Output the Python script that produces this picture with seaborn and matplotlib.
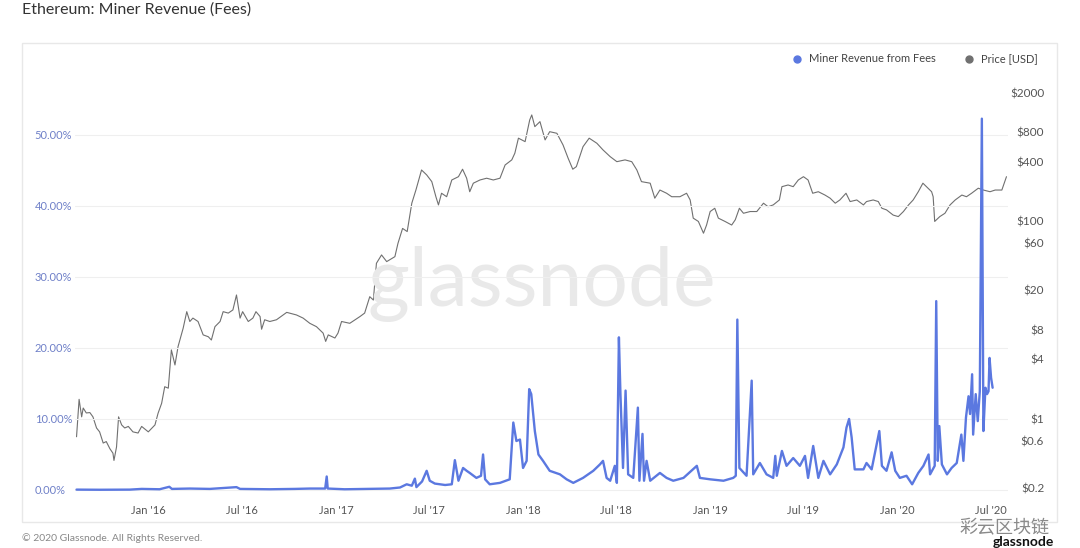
import matplotlib
matplotlib.use('Agg')
import matplotlib.pyplot as plt
from matplotlib.lines import Line2D
from matplotlib.patches import Rectangle
from matplotlib.ticker import FixedLocator, FixedFormatter
import pandas as pd
import seaborn as sns

# ==================== DATA ====================
price_dates = [
    '2015-08-13', '2015-08-18', '2015-08-23', '2015-08-26', '2015-09-01', '2015-09-08', '2015-09-14',
    '2015-09-21', '2015-09-27', '2015-10-04', '2015-10-10', '2015-10-17', '2015-10-23', '2015-10-25',
    '2015-10-30', '2015-11-03', '2015-11-09', '2015-11-15', '2015-11-22', '2015-12-01', '2015-12-11',
    '2015-12-18', '2015-12-31', '2016-01-13', '2016-01-19', '2016-01-26', '2016-02-01', '2016-02-08',
    '2016-02-14', '2016-02-21', '2016-02-27', '2016-03-08', '2016-03-15', '2016-03-21', '2016-03-27',
    '2016-04-06', '2016-04-16', '2016-04-26', '2016-05-02', '2016-05-09', '2016-05-19', '2016-05-25',
    '2016-06-04', '2016-06-13', '2016-06-20', '2016-06-27', '2016-07-02', '2016-07-13', '2016-07-22',
    '2016-07-28', '2016-08-05', '2016-08-08', '2016-08-14', '2016-08-24', '2016-09-06', '2016-09-26',
    '2016-10-15', '2016-10-28', '2016-11-10', '2016-11-23', '2016-12-06', '2016-12-11', '2016-12-16',
    '2016-12-29', '2017-01-04', '2017-01-11', '2017-01-27', '2017-02-16', '2017-02-25', '2017-03-07',
    '2017-03-14', '2017-03-20', '2017-03-30', '2017-04-09', '2017-04-25', '2017-05-01', '2017-05-10',
    '2017-05-19', '2017-05-28', '2017-06-05', '2017-06-16', '2017-06-26', '2017-07-06', '2017-07-14',
    '2017-07-19', '2017-07-25', '2017-08-04', '2017-08-14', '2017-08-27', '2017-09-04', '2017-09-12',
    '2017-09-18', '2017-09-25', '2017-10-08', '2017-10-21', '2017-11-03', '2017-11-16', '2017-11-26',
    '2017-12-09', '2017-12-15', '2017-12-22', '2018-01-04', '2018-01-13', '2018-01-17', '2018-01-23',
    '2018-02-02', '2018-02-12', '2018-02-21', '2018-03-07', '2018-03-19', '2018-03-29', '2018-04-07',
    '2018-04-14', '2018-04-27', '2018-05-09', '2018-05-24', '2018-06-05', '2018-06-19', '2018-07-02',
    '2018-07-18', '2018-07-31', '2018-08-10', '2018-08-19', '2018-09-05', '2018-09-14', '2018-09-24',
    '2018-10-07', '2018-10-17', '2018-11-02', '2018-11-15', '2018-11-22', '2018-11-28', '2018-12-08',
    '2018-12-18', '2018-12-24', '2018-12-31', '2019-01-09', '2019-01-16', '2019-01-29', '2019-02-11',
    '2019-02-18', '2019-02-26', '2019-03-06', '2019-03-19', '2019-04-01', '2019-04-14', '2019-04-23',
    '2019-05-03', '2019-05-15', '2019-05-20', '2019-06-01', '2019-06-11', '2019-06-21', '2019-07-01',
    '2019-07-10', '2019-07-19', '2019-07-30', '2019-08-12', '2019-08-22', '2019-09-01', '2019-09-10',
    '2019-09-22', '2019-09-30', '2019-10-13', '2019-10-26', '2019-11-01', '2019-11-14', '2019-11-24',
    '2019-12-01', '2019-12-10', '2019-12-23', '2020-01-02', '2020-01-12', '2020-01-22', '2020-01-31',
    '2020-02-10', '2020-02-19', '2020-02-26', '2020-03-07', '2020-03-10', '2020-03-13', '2020-03-23',
    '2020-04-02', '2020-04-12', '2020-04-22', '2020-05-05', '2020-05-14', '2020-05-24', '2020-06-06',
    '2020-06-16', '2020-06-29', '2020-07-09', '2020-07-22', '2020-07-31',
]
price_usd = [
    0.66, 1.58, 1.05, 1.29, 1.15, 1.16, 1.05,
    0.81, 0.74, 0.57, 0.59, 0.50, 0.45, 0.38,
    0.52, 1.05, 0.87, 0.81, 0.84, 0.74, 0.72,
    0.84, 0.74, 0.87, 1.14, 1.44, 2.12, 2.05,
    5.0, 3.52, 5.4, 8.3, 12.2, 9.7, 10.5,
    9.7, 7.1, 6.8, 6.3, 8.6, 9.7, 12.2,
    11.8, 12.7, 18.0, 10.5, 12.2, 9.7, 10.5,
    12.2, 10.9, 8.1, 10.1, 9.7, 10.1, 12.0,
    11.3, 10.5, 9.3, 8.6, 7.4, 6.1, 7.1,
    6.6, 7.4, 9.7, 9.3, 10.9, 11.8, 17.3,
    16.0, 37.7, 45.8, 39.2, 44, 60, 85,
    79, 153, 208, 332, 296, 253, 178,
    147, 193, 178, 263, 284, 338, 274,
    200, 244, 263, 274, 263, 274, 373,
    420, 491, 697, 643, 1066, 1198, 912,
    1025, 669, 811, 781, 595, 436, 338,
    359, 572, 697, 619, 530, 453, 403,
    420, 403, 332, 253, 244, 172, 208,
    193, 178, 178, 193, 165, 108, 100,
    76, 92, 126, 136, 108, 100, 92,
    104, 136, 121, 126, 126, 153, 141,
    147, 165, 225, 234, 225, 263, 284,
    263, 193, 200, 185, 172, 153, 165,
    193, 159, 165, 147, 159, 165, 159,
    136, 131, 116, 112, 126, 147, 165,
    200, 244, 225, 200, 178, 100, 112,
    121, 147, 165, 185, 178, 193, 217,
    208, 200, 208, 208, 284,
]

fee_dates = [
    '2015-08-13', '2015-09-27', '2015-11-25', '2015-12-18', '2016-01-03', '2016-01-22', '2016-02-10',
    '2016-02-15', '2016-03-21', '2016-04-29', '2016-06-20', '2016-06-27', '2016-08-24', '2016-10-12',
    '2016-11-10', '2016-12-10', '2016-12-13', '2016-12-15', '2017-01-17', '2017-03-07', '2017-04-15',
    '2017-05-05', '2017-05-18', '2017-05-28', '2017-06-03', '2017-06-06', '2017-06-17', '2017-06-26',
    '2017-07-02', '2017-07-12', '2017-08-01', '2017-08-14', '2017-08-20', '2017-08-27', '2017-09-05',
    '2017-09-12', '2017-09-18', '2017-10-01', '2017-10-10', '2017-10-14', '2017-10-18', '2017-10-27',
    '2017-11-16', '2017-12-05', '2017-12-12', '2017-12-18', '2017-12-25', '2017-12-31', '2018-01-07',
    '2018-01-12', '2018-01-16', '2018-01-23', '2018-01-30', '2018-02-08', '2018-02-21', '2018-03-13',
    '2018-03-26', '2018-04-08', '2018-04-27', '2018-05-17', '2018-05-30', '2018-06-05', '2018-06-12',
    '2018-06-19', '2018-06-28', '2018-07-02', '2018-07-06', '2018-07-09', '2018-07-14', '2018-07-19',
    '2018-07-24', '2018-08-03', '2018-08-12', '2018-08-15', '2018-08-21', '2018-08-24', '2018-08-29',
    '2018-09-05', '2018-09-24', '2018-10-07', '2018-10-20', '2018-11-09', '2018-12-05', '2018-12-11',
    '2018-12-31', '2019-01-26', '2019-02-14', '2019-02-19', '2019-02-22', '2019-02-26', '2019-03-12',
    '2019-03-22', '2019-03-25', '2019-04-07', '2019-04-20', '2019-05-03', '2019-05-07', '2019-05-10',
    '2019-05-20', '2019-05-29', '2019-06-11', '2019-06-24', '2019-07-04', '2019-07-10', '2019-07-20',
    '2019-07-30', '2019-08-09', '2019-08-22', '2019-09-04', '2019-09-17', '2019-09-23', '2019-09-28',
    '2019-10-03', '2019-10-09', '2019-10-26', '2019-11-01', '2019-11-11', '2019-11-26', '2019-12-01',
    '2019-12-10', '2019-12-20', '2019-12-27', '2020-01-05', '2020-01-18', '2020-01-29', '2020-02-10',
    '2020-02-20', '2020-03-01', '2020-03-04', '2020-03-13', '2020-03-16', '2020-03-19', '2020-03-22',
    '2020-03-27', '2020-04-06', '2020-04-15', '2020-04-25', '2020-05-04', '2020-05-08', '2020-05-13',
    '2020-05-18', '2020-05-21', '2020-05-25', '2020-05-27', '2020-06-01', '2020-06-05', '2020-06-09',
    '2020-06-13', '2020-06-16', '2020-06-20', '2020-06-23', '2020-06-26', '2020-06-28', '2020-07-01',
    '2020-07-04',
]
fee_pct = [
    0.05, 0.03, 0.05, 0.15, 0.12, 0.10, 0.45,
    0.15, 0.20, 0.15, 0.40, 0.15, 0.10, 0.15,
    0.20, 0.20, 1.9, 0.20, 0.10, 0.15, 0.20,
    0.35, 0.8, 0.6, 1.6, 0.4, 1.2, 2.7,
    1.3, 0.9, 0.7, 0.8, 4.2, 1.3, 3.1,
    2.7, 2.4, 1.7, 2.0, 5.0, 1.5, 0.8,
    1.0, 1.5, 9.5, 6.9, 7.1, 3.1, 4.1,
    14.2, 13.5, 8.3, 5.0, 4.1, 2.7, 2.2,
    1.5, 1.0, 1.7, 2.7, 3.6, 4.1, 1.7,
    1.3, 3.4, 1.0, 21.5, 13.5, 3.1, 14.0,
    2.2, 1.7, 11.6, 1.3, 7.9, 1.3, 4.1,
    1.3, 2.4, 1.7, 1.3, 1.7, 3.4, 1.7,
    1.5, 1.3, 1.7, 2.0, 24.0, 3.1, 2.0,
    15.4, 2.2, 3.8, 2.2, 1.7, 4.8, 2.0,
    5.5, 3.4, 4.5, 3.4, 4.8, 1.7, 6.2,
    1.7, 4.1, 2.2, 3.6, 6.0, 8.8, 10.0,
    7.4, 2.9, 2.9, 3.8, 2.9, 8.3, 3.4,
    2.7, 5.3, 2.7, 1.7, 2.0, 0.8, 2.4,
    3.4, 5.0, 2.2, 3.4, 26.6, 4.1, 9.0,
    3.6, 2.2, 3.1, 3.8, 7.8, 4.1, 10.2,
    13.2, 10.7, 16.3, 7.8, 13.5, 9.7, 13.9,
    52.3, 8.3, 14.4, 13.5, 13.9, 18.6, 15.8,
    14.4,
]

pct_ticks = [0, 10, 20, 30, 40, 50]
usd_ticks = [0.2, 0.6, 1, 4, 8, 20, 60, 100, 400, 800, 2000]
usd_labels = ['$0.2', '$0.6', '$1', '$4', '$8', '$20', '$60', '$100', '$400', '$800', '$2000']
month_ticks = ['2016-01-01', '2016-07-01', '2017-01-01', '2017-07-01', '2018-01-01', '2018-07-01',
               '2019-01-01', '2019-07-01', '2020-01-01', '2020-07-01']
month_labels = ["Jan '16", "Jul '16", "Jan '17", "Jul '17", "Jan '18", "Jul '18",
                "Jan '19", "Jul '19", "Jan '20", "Jul '20"]

FEE_COLOR = '#5b78e0'
PRICE_COLOR = '#707070'

price_df = pd.DataFrame({'date': pd.to_datetime(price_dates), 'price': price_usd})
fee_df = pd.DataFrame({'date': pd.to_datetime(fee_dates), 'fee': fee_pct})

# ==================== PLOT ====================
sns.set_theme(style='white')
plt.rcParams['font.family'] = ['Lato', 'DejaVu Sans']

W, H = 1080, 548
fig = plt.figure(figsize=(W / 100, H / 100), dpi=100)
fig.patch.set_facecolor('white')

def px(x, y):
    return x / W, 1 - y / H

# outer card
fig.patches.append(Rectangle(px(22, 522), (1057 - 22) / W, (522 - 43) / H, transform=fig.transFigure,
                             facecolor='none', edgecolor='#e8e8e8', lw=1.0))

ax_l, ax_t, ax_r, ax_b = 75, 75, 1008, 497
ax = fig.add_axes([ax_l / W, 1 - ax_b / H, (ax_r - ax_l) / W, (ax_b - ax_t) / H])
ax2 = ax.twinx()

# watermark
ax.text(0.5, 0.505, 'glassnode', transform=ax.transAxes, ha='center', va='center',
        fontsize=58, color='#e9e9e9', zorder=0)

sns.lineplot(data=price_df, x='date', y='price', ax=ax2, color=PRICE_COLOR, lw=0.8)
sns.lineplot(data=fee_df, x='date', y='fee', ax=ax, color=FEE_COLOR, lw=1.7)

ax.set_zorder(ax2.get_zorder() + 1)
ax.patch.set_visible(False)

ax.set_xlim(pd.Timestamp('2015-08-10'), pd.Timestamp('2020-08-03'))
ax.set_ylim(-0.99, 58.45)
ax2.set_yscale('log')
ax2.set_ylim(0.162, 3041)

ax.set_yticks(pct_ticks)
ax.set_yticklabels([f'{t:.2f}%' for t in pct_ticks])
ax2.yaxis.set_major_locator(FixedLocator(usd_ticks))
ax2.yaxis.set_major_formatter(FixedFormatter(usd_labels))
ax2.yaxis.set_minor_locator(FixedLocator([]))
ax.set_xticks(pd.to_datetime(month_ticks))
ax.set_xticklabels(month_labels)

ax.grid(axis='y', color='#efefef', lw=0.8)
ax.grid(axis='x', visible=False)
ax2.grid(False)
for a in (ax, ax2):
    for s in a.spines.values():
        s.set_visible(False)
    a.set_xlabel('')
    a.set_ylabel('')

ax.tick_params(axis='y', length=0, pad=29, labelsize=8, labelcolor='#6f80c8')
for lab in ax.get_yticklabels():
    lab.set_horizontalalignment('left')
ax2.tick_params(axis='y', length=0, pad=26, labelsize=8.5, labelcolor='#555555')
for lab in ax2.get_yticklabels():
    lab.set_horizontalalignment('right')
ax.tick_params(axis='x', length=0, pad=6, labelsize=8, labelcolor='#555555')

# legend
handles = [Line2D([], [], marker='o', ls='none', color=FEE_COLOR, markersize=5),
           Line2D([], [], marker='o', ls='none', color=PRICE_COLOR, markersize=5)]
fig.legend(handles, ['Miner Revenue from Fees', 'Price [USD]'], loc='center right',
           bbox_to_anchor=px(1048, 59), ncol=2, frameon=False, fontsize=8,
           handletextpad=0.1, columnspacing=2.0, labelcolor='#444444')

# title and footer
fig.text(*px(22, 10), 'Ethereum: Miner Revenue (Fees)', ha='left', va='center',
         fontsize=11.5, color='#333333')
fig.text(*px(22, 538), '© 2020 Glassnode. All Rights Reserved.', ha='left', va='center',
         fontsize=7.5, color='#888888')
fig.text(*px(1050, 528), '彩云区块链', ha='right', va='center', fontsize=13, color='#8a8a8a',
         family=['Noto Sans CJK SC', 'DejaVu Sans'])
fig.text(*px(1054, 542), 'glassnode', ha='right', va='center', fontsize=10, color='#111111',
         fontweight='bold')

fig.savefig('out.png', dpi=100, facecolor='white')
